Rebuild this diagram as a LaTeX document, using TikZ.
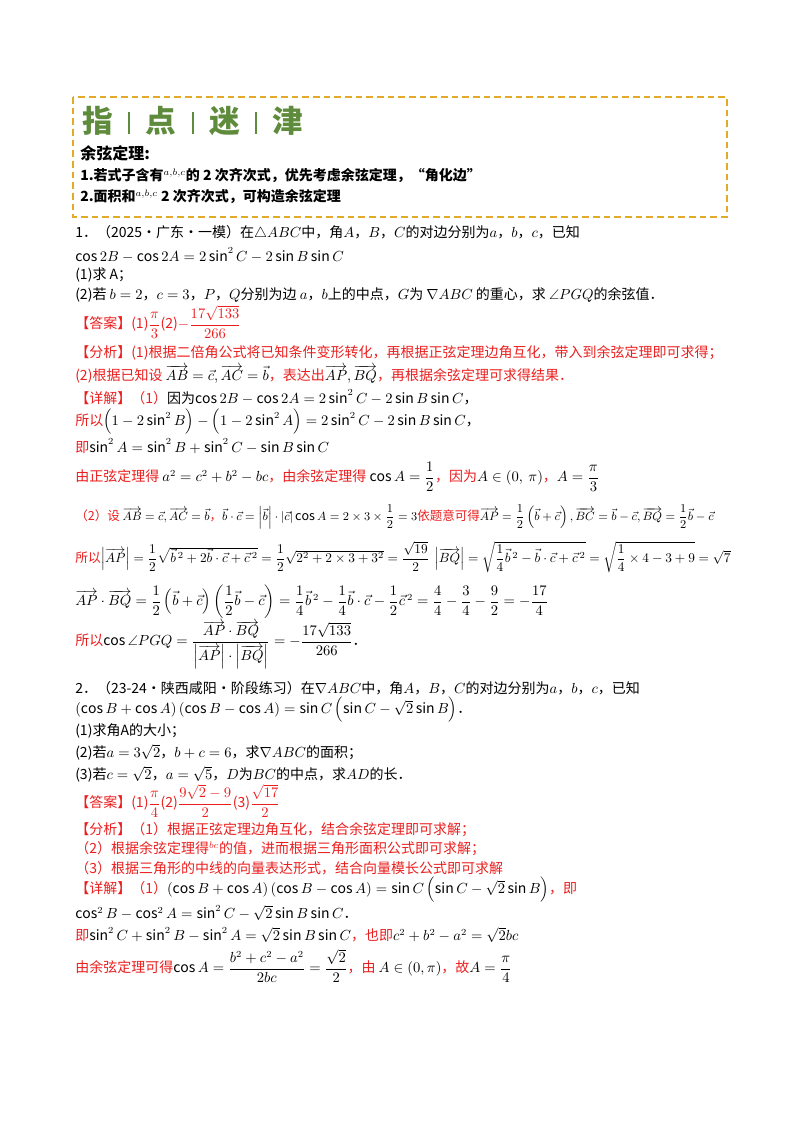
\documentclass[tikz,border=0pt]{standalone}
\usepackage{amsmath,amssymb}
\usepackage{fontspec}
\setmainfont{Noto Sans CJK SC}
\definecolor{rd}{RGB}{235,30,30}
\definecolor{gr}{RGB}{95,140,60}
\definecolor{og}{RGB}{225,170,40}
\begin{document}
\begin{tikzpicture}[x=0.75pt,y=-0.75pt,
  ln/.style={anchor=west,inner sep=0pt,font=\fontsize{10.5}{12}\selectfont},
  bl/.style={ln,font=\fontsize{10.5}{12}\selectfont\bfseries},
  r/.style={ln,text=rd}]
\useasboundingbox (0,0) rectangle (800,1132);
\newcommand\vv[1]{\overrightarrow{#1}}
\newcommand\sepbar{\hspace{0.5em}\rule[-1pt]{1.6pt}{16pt}\hspace{0.5em}}
\draw[og,dashed,line width=1.3pt,dash pattern=on 5pt off 3pt] (73,97) rectangle (727,217);
\node[ln,text=gr,font=\fontsize{23}{25}\selectfont\bfseries] (h) at (82,121) {指\sepbar 点\sepbar 迷\sepbar 津};
\node[bl,font=\fontsize{12}{14}\selectfont\bfseries] (t0) at (80,153) {余弦定理:};
\node[bl] (t1) at (80,176) {1.若式子含有$^{a,b,c}$的 2 次齐次式，优先考虑余弦定理，“角化边”};
\node[bl] (t2) at (80,197) {2.面积和$^{a,b,c}$ 2 次齐次式，可构造余弦定理};
\node[ln] (p1) at (75,233) {1．（2025·广东·一模）在$\triangle ABC$中，角$A$，$B$，$C$的对边分别为$a$，$b$，$c$，已知};
\node[ln] (p2) at (75,255) {$\cos 2B-\cos 2A=2\sin^2C-2\sin B\sin C$};
\node[ln] (p3) at (75,275) {(1)求 A；};
\node[ln] (p4) at (75,295) {(2)若 $b=2$，$c=3$，$P$，$Q$分别为边 $a$，$b$上的中点，$G$为 $\nabla ABC$ 的重心，求 $\angle PGQ$的余弦值．};
\node[r] (a1) at (75,322) {【答案】(1)$\dfrac{\pi}{3}$(2)$-\dfrac{17\sqrt{133}}{266}$};
\node[r] (f1) at (75,353) {【分析】(1)根据二倍角公式将已知条件变形转化，再根据正弦定理边角互化，带入到余弦定理即可求得；};
\node[r] (f2) at (75,374) {(2)根据已知设 \textcolor{black}{$\vv{AB}=\vec c,\vv{AC}=\vec b$}，表达出\textcolor{black}{$\vv{AP},\vv{BQ}$}，再根据余弦定理可求得结果．};
\node[r] (d1) at (75,397) {【详解】（1）\textcolor{black}{因为$\cos 2B-\cos 2A=2\sin^2C-2\sin B\sin C$，}};
\node[r] (d2) at (75,422) {所以\textcolor{black}{$\left(1-2\sin^2B\right)-\left(1-2\sin^2A\right)=2\sin^2C-2\sin B\sin C$，}};
\node[r] (d3) at (75,446) {即\textcolor{black}{$\sin^2A=\sin^2B+\sin^2C-\sin B\sin C$}};
\node[r] (d4) at (75,477) {由正弦定理得 \textcolor{black}{$a^2=c^2+b^2-bc$}，由余弦定理得 \textcolor{black}{$\cos A=\dfrac12$}，因为\textcolor{black}{$A\in(0,\ \pi)$}，\textcolor{black}{$A=\dfrac{\pi}{3}$}};
\node[r,font=\fontsize{9.4}{11}\selectfont] (d5) at (75,517) {（2）设 \textcolor{black}{$\vv{AB}=\vec c,\vv{AC}=\vec b$}，\textcolor{black}{$\vec b\cdot\vec c=\left|\vec b\right|\cdot\left|\vec c\right|\cos A=2\times3\times\dfrac12=3$}依题意可得\textcolor{black}{$\vv{AP}=\dfrac12\left(\vec b+\vec c\right),\vv{BC}=\vec b-\vec c,\vv{BQ}=\dfrac12\vec b-\vec c$}};
\node[r,font=\fontsize{9.6}{11}\selectfont] (d6) at (75,557) {所以\textcolor{black}{$\left|\vv{AP}\right|=\dfrac12\sqrt{\vec b^{\,2}+2\vec b\cdot\vec c+\vec c^{\,2}}=\dfrac12\sqrt{2^2+2\times3+3^2}=\dfrac{\sqrt{19}}{2}\ \left|\vv{BQ}\right|=\sqrt{\dfrac14\vec b^{\,2}-\vec b\cdot\vec c+\vec c^{\,2}}=\sqrt{\dfrac14\times4-3+9}=\sqrt7$}};
\node[ln] (d7) at (75,602) {$\vv{AP}\cdot\vv{BQ}=\dfrac12\left(\vec b+\vec c\right)\left(\dfrac12\vec b-\vec c\right)=\dfrac14\vec b^{\,2}-\dfrac14\vec b\cdot\vec c-\dfrac12\vec c^{\,2}=\dfrac44-\dfrac34-\dfrac92=-\dfrac{17}{4}$};
\node[r] (d8) at (75,645) {所以\textcolor{black}{$\cos\angle PGQ=\dfrac{\vv{AP}\cdot\vv{BQ}}{\left|\vv{AP}\right|\cdot\left|\vv{BQ}\right|}=-\dfrac{17\sqrt{133}}{266}$．}};
\node[ln] (q1) at (75,688) {2．（23-24·陕西咸阳·阶段练习）在$\nabla ABC$中，角$A$，$B$，$C$的对边分别为$a$，$b$，$c$，已知};
\node[ln] (q2) at (75,710) {$\left(\cos B+\cos A\right)\left(\cos B-\cos A\right)=\sin C\left(\sin C-\sqrt2\sin B\right)$．};
\node[ln] (q3) at (75,731) {(1)求角A的大小；};
\node[ln] (q4) at (75,752) {(2)若$a=3\sqrt2$，$b+c=6$，求$\nabla ABC$的面积；};
\node[ln] (q5) at (75,774) {(3)若$c=\sqrt2$，$a=\sqrt5$，$D$为$BC$的中点，求$AD$的长．};
\node[r] (b1) at (75,801) {【答案】(1)$\dfrac{\pi}{4}$(2)$\dfrac{9\sqrt2-9}{2}$(3)$\dfrac{\sqrt{17}}{2}$};
\node[r] (g1) at (75,830) {【分析】（1）根据正弦定理边角互化，结合余弦定理即可求解；};
\node[r] (g2) at (75,849) {（2）根据余弦定理得$^{bc}$的值，进而根据三角形面积公式即可求解；};
\node[r] (g3) at (75,868) {（3）根据三角形的中线的向量表达形式，结合向量模长公式即可求解};
\node[r] (e1) at (75,890) {【详解】（1）\textcolor{black}{$\left(\cos B+\cos A\right)\left(\cos B-\cos A\right)=\sin C\left(\sin C-\sqrt2\sin B\right)$}，即};
\node[ln] (e2) at (75,913) {$\cos^2B-\cos^2A=\sin^2C-\sqrt2\sin B\sin C$．};
\node[r] (e3) at (75,935) {即\textcolor{black}{$\sin^2C+\sin^2B-\sin^2A=\sqrt2\sin B\sin C$}，也即\textcolor{black}{$c^2+b^2-a^2=\sqrt2bc$}};
\node[r] (e4) at (75,966) {由余弦定理可得\textcolor{black}{$\cos A=\dfrac{b^2+c^2-a^2}{2bc}=\dfrac{\sqrt2}{2}$}，由 \textcolor{black}{$A\in\left(0,\pi\right)$}，故\textcolor{black}{$A=\dfrac{\pi}{4}$}};
\end{tikzpicture}
\end{document}
